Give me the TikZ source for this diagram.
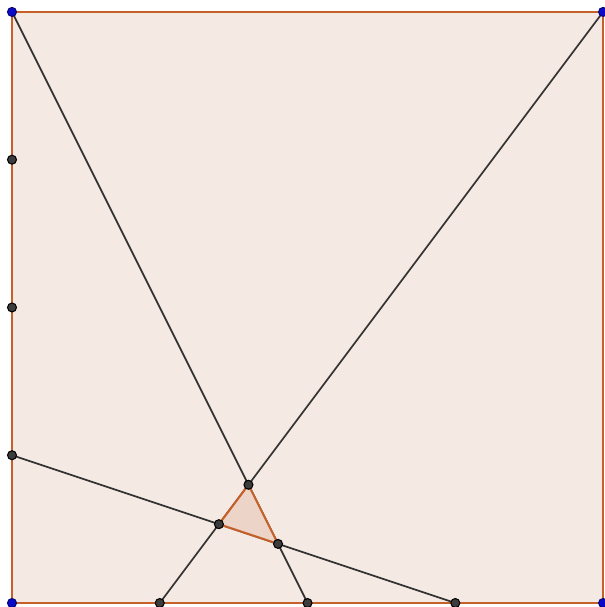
\documentclass[tikz,border=0pt]{standalone}
\usepackage{tikz}
\usetikzlibrary{calc}

\definecolor{sqfill}{RGB}{245,233,227}
\definecolor{sqedge}{RGB}{196,96,40}
\definecolor{trifill}{RGB}{236,212,200}
\definecolor{ptgray}{RGB}{60,60,60}
\definecolor{ptblue}{RGB}{10,10,200}

\tikzset{
  seg/.style={line width=0.5pt, black!80},
  dot/.style={circle, fill=ptgray, draw=black, line width=0.3pt, inner sep=0pt, minimum size=2.6pt},
  corner/.style={dot, fill=ptblue, draw=ptblue!60!black}
}

\begin{document}
\begin{tikzpicture}[scale=1.5]

\useasboundingbox (-0.0812,-0.027) rectangle (4.0068,4.0812);

% Square
\coordinate (A) at (0,0);
\coordinate (B) at (4,0);
\coordinate (C) at (4,4);
\coordinate (D) at (0,4);
\draw[sqedge, fill=sqfill, line width=0.6pt] (A)--(B)--(C)--(D)--cycle;

% Division points on the sides
\foreach \i in {1,2,3}
{
\coordinate (L\i) at (0,\i);
\coordinate (M\i) at (\i,0);
}

% Cevians
\draw[seg] (D)--(M2);
\draw[seg] (C)--(M1);
\draw[seg] (L1)--(M3);

% Inner triangle
\coordinate (P) at (intersection of D--M2 and C--M1);
\coordinate (Q) at (intersection of D--M2 and L1--M3);
\coordinate (R) at (intersection of C--M1 and L1--M3);
\draw[sqedge, fill=trifill, line width=0.6pt] (P)--(Q)--(R)--cycle;

% Points
\foreach \p in {L1,L2,L3,M1,M2,M3,P,Q,R}
{
\node[dot] at (\p){};
}
\foreach \p in {A,B,C,D}
{
\node[corner] at (\p){};
}

\end{tikzpicture}
\end{document}
